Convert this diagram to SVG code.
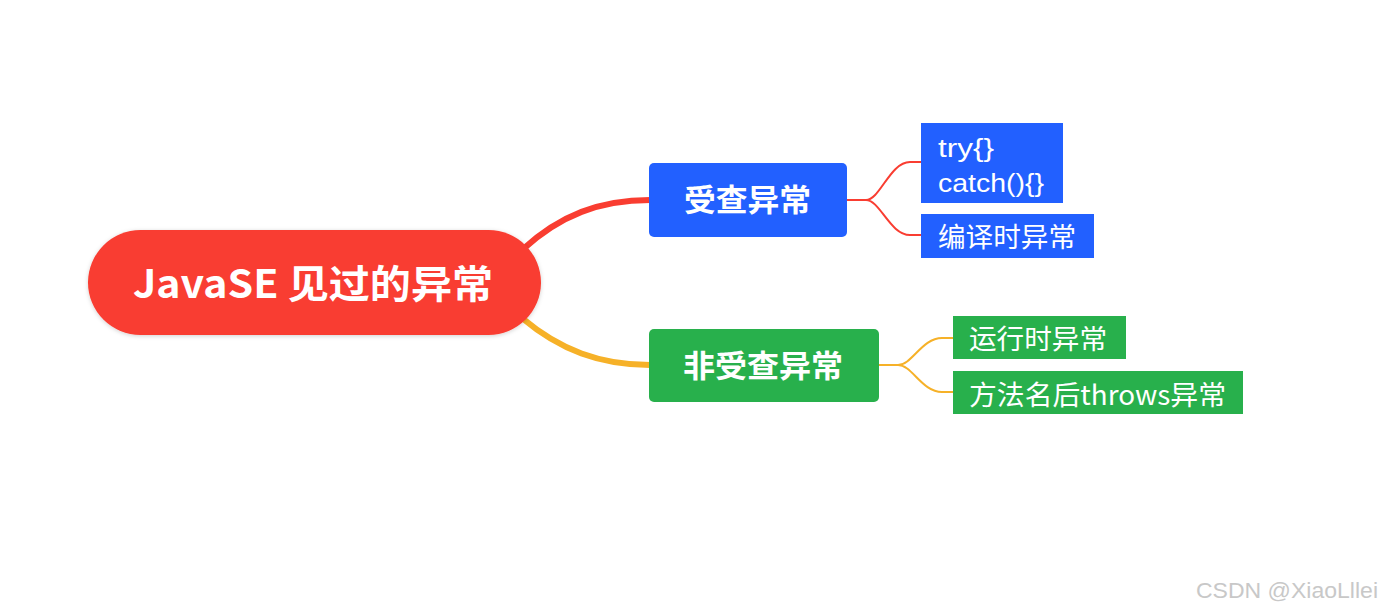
<svg xmlns="http://www.w3.org/2000/svg" width="1395" height="613" viewBox="0 0 1395 613">
<defs>
<filter id="sh" x="-10%" y="-20%" width="120%" height="140%">
<feDropShadow dx="0" dy="1" stdDeviation="2" flood-color="#000" flood-opacity="0.18"/>
</filter>
<style>
.t{font-family:"Noto Sans CJK SC","Noto Sans",sans-serif;fill:#fff}
.b{font-weight:bold}
.c{font-size:27px}
.l{font-family:"Liberation Sans",Arial,sans-serif;font-size:26px;fill:#fff}
</style>
</defs>
<rect width="1395" height="613" fill="#fff"/>
<g id="connectors" fill="none">
<path d="M522 250 C560 215 600 200 650 200" stroke="#F93D31" stroke-width="6"/>
<path d="M522 318 C560 350 600 365 650 365" stroke="#F6B128" stroke-width="6"/>
<path d="M847 200 H866 C880 200 890 162 910 162 H921 M866 200 C880 200 890 235 910 235 H921" stroke="#F93D31" stroke-width="2"/>
<path d="M879 365 H898 C912 365 922 338 942 338 H953 M898 365 C912 365 922 392 942 392 H953" stroke="#F6B128" stroke-width="2"/>
</g>
<g id="root">
<rect x="88" y="230" width="453" height="105" rx="52.5" fill="#F93D31" filter="url(#sh)"/>
<text class="t b" x="133" y="298" font-size="39" textLength="360" lengthAdjust="spacingAndGlyphs">JavaSE 见过的异常</text>
</g>
<g id="checked">
<rect x="649" y="163" width="198" height="74" rx="5" fill="#2260FF"/>
<text class="t b" x="684" y="211" font-size="31" textLength="127" lengthAdjust="spacingAndGlyphs">受查异常</text>
</g>
<g id="unchecked">
<rect x="649" y="329" width="230" height="73" rx="5" fill="#28B04C"/>
<text class="t b" x="683" y="377" font-size="31" textLength="160" lengthAdjust="spacingAndGlyphs">非受查异常</text>
</g>
<g id="trycatch">
<rect x="921" y="123" width="142" height="80" fill="#2260FF"/>
<text class="l" x="938" y="157" textLength="56" lengthAdjust="spacingAndGlyphs">try{}</text>
<text class="l" x="938" y="192" textLength="106" lengthAdjust="spacingAndGlyphs">catch(){}</text>
</g>
<g id="compile">
<rect x="921" y="214" width="173" height="44" fill="#2260FF"/>
<text class="t c" x="938" y="247" textLength="138" lengthAdjust="spacingAndGlyphs">编译时异常</text>
</g>
<g id="runtime">
<rect x="953" y="316" width="173" height="43" fill="#28B04C"/>
<text class="t c" x="969" y="349" textLength="138" lengthAdjust="spacingAndGlyphs">运行时异常</text>
</g>
<g id="throws">
<rect x="953" y="371" width="290" height="43" fill="#28B04C"/>
<text class="t c" x="969" y="405" textLength="257" lengthAdjust="spacingAndGlyphs">方法名后throws异常</text>
</g>
<text x="1196" y="598" font-family="Liberation Sans, Arial, sans-serif" font-size="22" fill="#c8c8c8" textLength="182" lengthAdjust="spacingAndGlyphs">CSDN @XiaoLllei</text>
</svg>
